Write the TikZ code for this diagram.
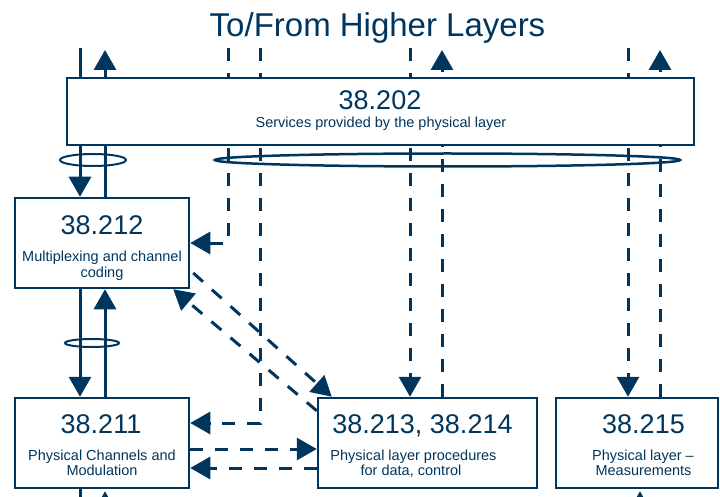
\documentclass[tikz,border=0pt]{standalone}
\usepackage{fontspec}
\setmainfont{Liberation Sans}
\usetikzlibrary{arrows.meta,calc}
\definecolor{navy}{RGB}{0,54,94}
\pgfdeclarelayer{bg}
\pgfsetlayers{bg,main}
\begin{document}
\begin{tikzpicture}[x=1pt,y=-1pt,
  box/.style={draw=navy,line width=2.5pt,fill=white,inner sep=0pt,minimum height=90pt},
  titletext/.style={font=\fontsize{33}{36}\selectfont,text=navy,anchor=base,inner sep=0pt},
  num/.style={font=\fontsize{27}{30}\selectfont,text=navy,anchor=base,inner sep=0pt},
  sub/.style={font=\fontsize{14.5}{16}\selectfont,text=navy,anchor=base,inner sep=0pt},
  conn/.style={draw=navy,line width=3pt},
  dconn/.style={conn,dash pattern=on 13pt off 12pt},
  tip/.style={-{Triangle[length=20pt,width=22pt]}},
  ring/.style={draw=navy,line width=2pt}]
\useasboundingbox (0,0) rectangle (720,497);

% boxes
\node[box,minimum width=627pt,minimum height=67pt] (b202) at (380.5,111.5) {};
\node[box,minimum width=174pt] (b212) at (102,243) {};
\node[box,minimum width=174pt] (b211) at (102,443) {};
\node[box,minimum width=219pt] (b213) at (427.5,443) {};
\node[box,minimum width=162pt] (b215) at (637,443) {};

% texts
\node[titletext] (title) at (377.5,37) {To/From Higher Layers};
\node[num] (n202) at (380,110) {38.202};
\node[sub] (s202) at (381,128) {Services provided by the physical layer};
\node[num] (n212) at (102,234) {38.212};
\node[sub] (s212a) at (102,261) {Multiplexing and channel};
\node[sub] (s212b) at (102,277) {coding};
\node[num] (n211) at (101,433) {38.211};
\node[sub] (s211a) at (102,460) {Physical Channels and};
\node[sub] (s211b) at (102,475) {Modulation};
\node[num] (n213) at (422.5,433) {38.213, 38.214};
\node[sub] (s213a) at (413.5,460) {Physical layer procedures};
\node[sub] (s213b) at (411,475) {for data, control};
\node[num] (n215) at (643.5,433) {38.215};
\node[sub] (s215a) at (643,460) {Physical layer –};
\node[sub] (s215b) at (643.5,475) {Measurements};

% free ends
\coordinate (t80) at (80,48);
\coordinate (t105) at (105,50);
\coordinate (t228) at (228,48);
\coordinate (t260) at (260,48);
\coordinate (t410) at (410,48);
\coordinate (t442) at (442,50);
\coordinate (t628) at (628,48);
\coordinate (t660) at (660,50);
\coordinate (u80) at (80,500);
\coordinate (u105) at (105,512);
\coordinate (u640) at (640,512);
\coordinate (h1) at ([yshift=-6pt]b211.east);
\coordinate (h2) at ([yshift=-25pt]b211.east);

\begin{pgfonlayer}{bg}
\fill[white] (0,0) rectangle (720,497);
% solid data paths
\draw[conn,tip] (t80) -- (t80 |- b212.north);
\draw[conn,tip] (t105 |- b212.north) -- (t105);
\draw[conn,tip] (t80 |- b212.south) -- (t80 |- b211.north);
\draw[conn,tip] (t105 |- b211.north) -- (t105 |- b212.south);
\draw[conn] (t80 |- b211.south) -- (u80);
\draw[conn,tip] (u105) -- ($(t105 |- b211.south)+(0,2)$);
\draw[conn,tip] (u640) -- ($(u640 |- b215.south)+(0,2)$);
% dashed control paths
\draw[dconn,tip] (t228) |- (b212.east);
\draw[dconn,tip] (t260) |- ([yshift=20pt]b211.east);
\draw[dconn,tip] (t410) -- (t410 |- b213.north);
\draw[dconn,tip] (t442 |- b213.north) -- (t442);
\draw[dconn,tip] (t628) -- (t628 |- b215.north);
\draw[dconn,tip] (t660 |- b215.north) -- (t660);
\draw[dconn,tip] ([xshift=3pt,yshift=-30pt]b212.east) -- ([xshift=15pt]b213.north west);
\draw[dconn,tip] ([yshift=-14pt]b213.north west) -- ([xshift=-17pt]b212.south east);
\draw[dconn,tip] (h1) -- (h1 -| b213.west);
\draw[dconn,tip] (h2 -| b213.west) -- (h2);
\end{pgfonlayer}

% bundle rings
\draw[ring] (93,160) ellipse [x radius=33pt,y radius=6pt];
\draw[ring,line width=2.5pt] (447.5,160) ellipse [x radius=232.5pt,y radius=6.5pt];
\draw[ring] (92,343) ellipse [x radius=27pt,y radius=4pt];
\end{tikzpicture}
\end{document}
